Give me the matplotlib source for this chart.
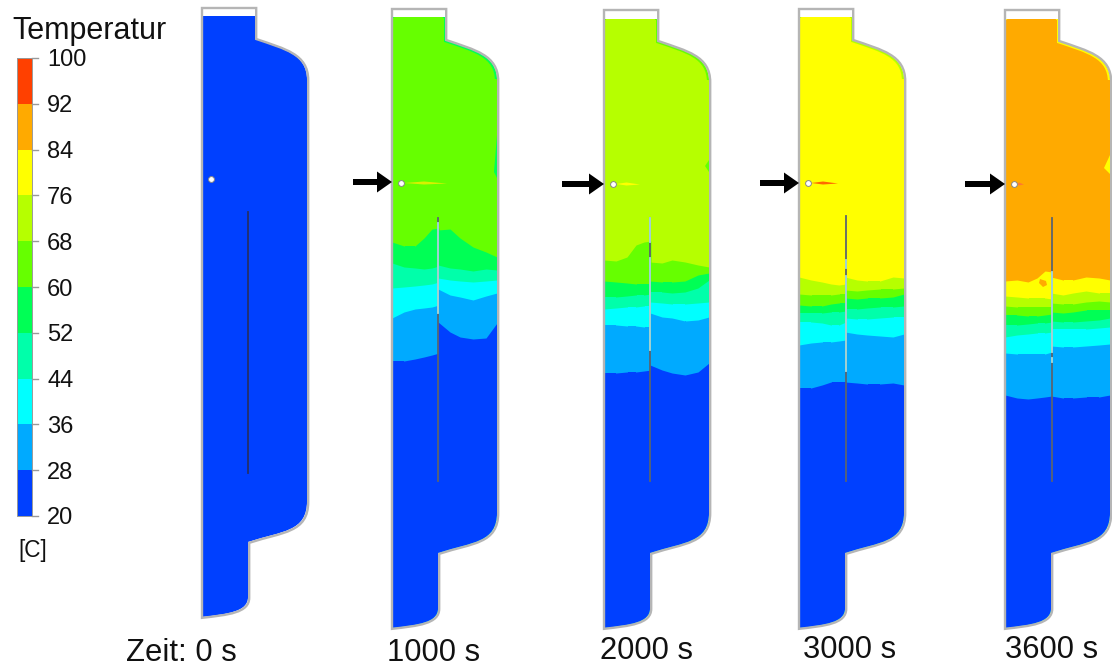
import matplotlib
matplotlib.use("Agg")
import matplotlib.pyplot as plt
import numpy as np
from matplotlib.path import Path
from matplotlib.patches import PathPatch

plt.rcParams["font.family"] = ["Liberation Sans", "DejaVu Sans"]

# Colour scale
levels = [20, 28, 36, 44, 52, 60, 68, 76, 84, 92, 100]
band_colors = ["#0040ff", "#00aaff", "#00ffff", "#00ffaa", "#00ff55",
               "#66ff00", "#b6ff00", "#ffff00", "#ffaa00", "#ff4000"]

# Panels
panel_labels = ["Zeit: 0 s", "1000 s", "2000 s", "3000 s", "3600 s"]
panel_x0 = [202, 392, 604, 799, 1005]
panel_top = [8, 9, 10, 9, 10]
panel_bottom = [617, 628, 628, 628, 628]
fluid_top = [16, 17, 19, 17, 19]
label_x = [126, 387, 600, 803, 1005]
label_y = [653, 653, 651, 650, 650]
hottest_band = [0, 5, 6, 7, 8]

# Vessel wall control points: upper part from the top, lower part from the bottom
wall_upper_x = [0, 53, 53, 82, 105, 105]
wall_upper_y = [0, 0, 31, 41, 46, 72]
wall_lower_x = [105, 105, 80, 46, 46, 46, 25, 0]
wall_lower_y = [-116, -85, -86, -75, -20, -5, -3, 0]
wall_codes = [Path.MOVETO, Path.LINETO, Path.LINETO, Path.CURVE4, Path.CURVE4, Path.CURVE4,
              Path.LINETO, Path.CURVE4, Path.CURVE4, Path.CURVE4, Path.LINETO,
              Path.CURVE4, Path.CURVE4, Path.CURVE4, Path.CLOSEPOLY]

# Contour heights across the left and right half of the vessel, hottest first
left_x = [0, 12, 23, 32, 40, 47]
right_x = [46, 58, 68, 81, 94, 105]

c1000_left = [[242, 246, 246, 238, 229, 228], [263, 267, 268, 269, 268, 266],
              [288, 287, 286, 285, 284, 282], [318, 312, 309, 308, 307, 305],
              [361, 361, 359, 357, 355, 353]]
c1000_right = [[230, 229, 238, 247, 252, 257], [265, 268, 269, 271, 269, 270],
               [278, 280, 281, 282, 281, 280], [289, 295, 297, 300, 296, 293],
               [322, 332, 337, 339, 338, 323]]

c2000_left = [[260, 261, 257, 245, 242, 241], [281, 282, 283, 284, 284, 284],
              [297, 297, 296, 295, 295, 294], [309, 308, 307, 307, 306, 306],
              [325, 325, 326, 326, 327, 327], [373, 373, 372, 372, 371, 370]]
c2000_right = [[262, 263, 260, 262, 265, 267], [281, 282, 282, 281, 275, 273],
               [292, 292, 293, 292, 288, 280], [302, 303, 304, 304, 303, 302],
               [313, 317, 318, 321, 320, 317], [365, 370, 373, 375, 372, 363]]

c3000_left = [[277, 280, 282, 284, 285, 284], [294, 295, 295, 295, 294, 294],
              [305, 306, 306, 304, 303, 303], [313, 313, 313, 312, 312, 311],
              [322, 322, 323, 325, 325, 322], [345, 343, 342, 342, 341, 340],
              [388, 388, 385, 382, 382, 382]]
c3000_right = [[277, 280, 281, 281, 277, 278], [290, 291, 290, 289, 289, 288],
               [298, 299, 298, 298, 297, 294], [309, 309, 308, 307, 307, 306],
               [318, 319, 319, 318, 317, 317], [332, 334, 335, 336, 337, 334],
               [382, 383, 384, 384, 383, 385]]

c3600_left = [[281, 280, 282, 278, 271, 272], [296, 297, 298, 298, 298, 299],
              [306, 307, 307, 307, 307, 307], [315, 315, 316, 316, 315, 314],
              [325, 325, 324, 323, 323, 322], [337, 335, 334, 333, 333, 332],
              [353, 354, 354, 354, 354, 352], [395, 398, 399, 398, 397, 396]]
c3600_right = [[277, 280, 280, 277, 278, 280], [293, 295, 293, 291, 293, 293],
               [303, 304, 304, 302, 301, 302], [312, 313, 312, 310, 310, 310],
               [321, 322, 322, 321, 320, 318], [329, 329, 329, 329, 328, 327],
               [346, 347, 347, 346, 345, 344], [396, 398, 398, 397, 397, 395]]

contours_left = [[], c1000_left, c2000_left, c3000_left, c3600_left]
contours_right = [[], c1000_right, c2000_right, c3000_right, c3600_right]

# Cooler film along the upper walls and patches on the right wall
film_color = [None, "#00ff55", "#66ff00", "#b6ff00", "#ffff00"]
spot_top = [None, 135, 160, None, 155]
spot_bottom = [None, 178, 172, None, 174]
spot_depth = [None, 3, 4, None, 6]

# Probe, arrows, baffle
probe_x = [211, 401, 613, 808, 1014]
probe_y = [179, 183, 184, 183, 184]
arrow_start = [None, 353, 562, 760, 965]
arrow_y = [None, 182, 184, 183, 184]
streak_end = [None, 447, 640, 838, 1024]
streak_color = [None, "#d8f000", "#ffff00", "#ff6a00", "#ff7a30"]
baffle_x = [46, 46, 46, 47, 47]
baffle_top = [212, 218, 218, 216, 218]
baffle_bottom = [473, 481, 481, 481, 481]
baffle_light = [[], [(223, 313)], [(218, 242), (258, 350)],
                [(260, 268), (276, 371)], [(272, 352), (358, 362)]]

fig = plt.figure(figsize=(11.12, 6.7), dpi=100)
ax = fig.add_axes([0, 0, 1, 1])
ax.set_xlim(0, 1112)
ax.set_ylim(670, 0)
ax.axis("off")


def wall_path(x0, top, bottom, shift=0.0):
    xs = np.array(wall_upper_x + wall_lower_x + [0], dtype=float)
    xs = x0 + xs + shift * (xs > 0)
    ys = [top + v for v in wall_upper_y] + [bottom + v + shift * 0.7 for v in wall_lower_y] + [top]
    return Path(np.column_stack([xs, ys]), wall_codes)


# Colour bar
bar_top, bar_bottom = 58, 516
scale = (bar_bottom - bar_top) / (levels[-1] - levels[0])
for i, color in enumerate(band_colors):
    y1 = bar_bottom - (levels[i] - 20) * scale
    y2 = bar_bottom - (levels[i + 1] - 20) * scale
    ax.fill_between([17, 31.5], y1, y2, color=color, lw=0)
ax.plot([17, 31.5, 31.5, 17, 17], [bar_top, bar_top, bar_bottom, bar_bottom, bar_top],
        color="#999999", lw=0.7)
for lev in levels:
    y = bar_bottom - (lev - 20) * scale
    ax.plot([31.5, 38], [y, y], color="#999999", lw=1)
    ax.text(47, y + 2.5, str(lev), fontsize=17, va="center", ha="left", color="#111111")
ax.text(12, 31, "Temperatur", fontsize=22, va="center", ha="left", color="#111111")
ax.text(18, 551, "[C]", fontsize=16.3, va="center", ha="left", color="#111111")

# Vessels
for p, x0 in enumerate(panel_x0):
    top = panel_top[p]
    bottom = panel_bottom[p]
    clip = PathPatch(wall_path(x0, top, bottom), transform=ax.transData, fc="none", ec="none")
    ax.add_patch(clip)

    # hottest band first, each cooler band painted over from its contour downwards
    art = ax.fill_between([x0, x0 + 106], fluid_top[p], bottom + 1,
                          color=band_colors[hottest_band[p]], lw=0, zorder=2)
    art.set_clip_path(clip)
    if film_color[p]:
        film = PathPatch(wall_path(x0, top, bottom), fc="none", ec=film_color[p], lw=3, zorder=2.05)
        ax.add_patch(film)
        film.set_clip_path(clip)
        art = ax.fill_between([x0 + 53, x0 + 106], 70 + top, bottom + 1,
                              color=band_colors[hottest_band[p]], lw=0, zorder=2.06)
        art.set_clip_path(clip)
        art = ax.fill_between([x0, x0 + 52], fluid_top[p] + 1, bottom + 1,
                              color=band_colors[hottest_band[p]], lw=0, zorder=2.06)
        art.set_clip_path(clip)
        art = ax.fill_between([x0, x0 + 106], top - 2, fluid_top[p],
                              color="white", lw=0, zorder=2.07)
    if spot_top[p]:
        ax.fill([x0 + 105, x0 + 105 - spot_depth[p], x0 + 105],
                [spot_top[p], spot_bottom[p] - 6, spot_bottom[p]],
                color=film_color[p], lw=0, zorder=2.08)
    band = hottest_band[p]
    for left, right in zip(contours_left[p], contours_right[p]):
        band -= 1
        for hx, hy in ((left_x, left), (right_x, right)):
            art = ax.fill_between(np.array(hx) + x0, hy, bottom + 1,
                                  color=band_colors[band], lw=0, zorder=2.1 + 0.1 * (8 - band))
            art.set_clip_path(clip)

    # wall outline, set off slightly from the fluid
    ax.add_patch(PathPatch(wall_path(x0, top, bottom, 1.2), fc="none", ec="#b5b5b5",
                           lw=1.7, zorder=5))

    # baffle
    bx = x0 + baffle_x[p]
    ax.plot([bx, bx], [baffle_top[p], baffle_bottom[p]],
            color="#24306a" if p == 0 else "#5a6470", lw=1.3, zorder=6)
    for y1, y2 in baffle_light[p]:
        ax.plot([bx, bx], [y1, y2], color="#a8dcdc", lw=1.3, zorder=6.1)

    # streak behind the probe
    if streak_end[p]:
        ax.fill([probe_x[p] + 3, (probe_x[p] + streak_end[p]) / 2, streak_end[p],
                 (probe_x[p] + streak_end[p]) / 2],
                [probe_y[p], probe_y[p] - 1.5, probe_y[p] + 0.5, probe_y[p] + 1.5],
                color=streak_color[p], lw=0, zorder=6)
    ax.plot(probe_x[p], probe_y[p], "o", ms=4.2, mfc="white", mec="#888888", mew=0.7, zorder=7)

    if arrow_start[p]:
        ax.arrow(arrow_start[p], arrow_y[p], x0 - arrow_start[p], 0, width=6, head_width=21,
                 head_length=15, length_includes_head=True, fc="black", ec="none", zorder=7)

    ax.text(label_x[p], label_y[p], panel_labels[p], fontsize=22.3,
            va="center", ha="left", color="#111111")

# Hot pocket just above the baffle at 3600 s
ax.fill([1040, 1046, 1047, 1043, 1039], [279, 281, 285, 287, 283],
        color=band_colors[8], lw=0, zorder=6)

fig.savefig("out.png", dpi=100)
